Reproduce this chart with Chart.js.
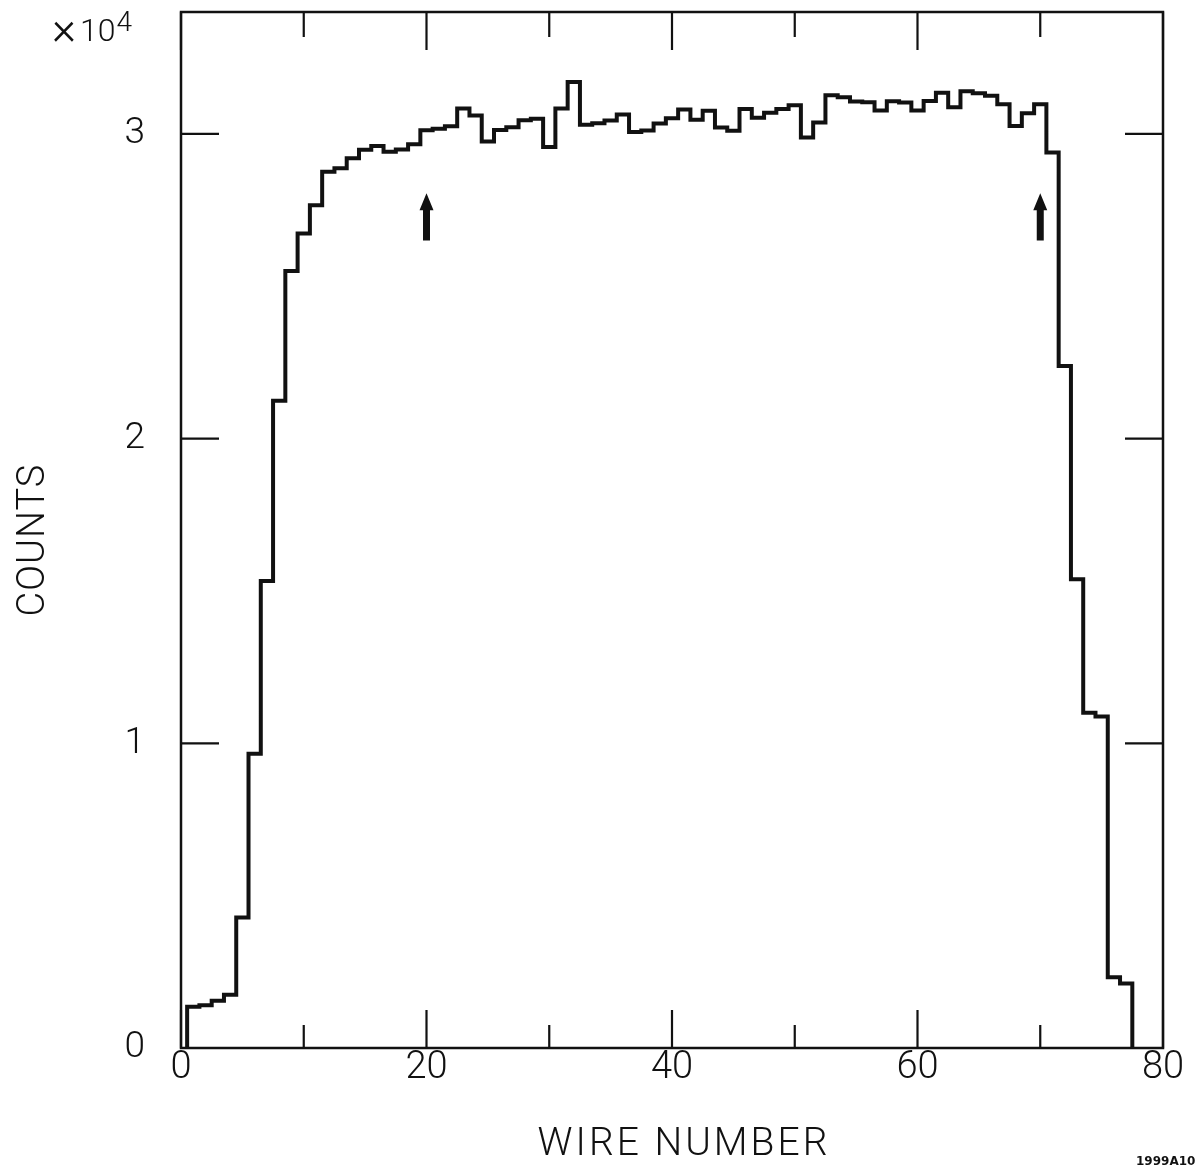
<!DOCTYPE html>
<html>
<head>
<meta charset="utf-8">
<script src="https://cdn.jsdelivr.net/npm/chart.js@4.4.1/dist/chart.umd.min.js"></script>
<style>
  html, body { margin: 0; padding: 0; background: #ffffff; }
  #wrap { width: 1195px; height: 1171px; position: relative; }
</style>
</head>
<body>
<div id="wrap"><canvas id="c" width="1195" height="1171"></canvas></div>
<script>
// Wire chamber occupancy histogram: counts per wire
const wires = [
  1, 2, 3, 4, 5, 6, 7, 8, 9, 10,
  11, 12, 13, 14, 15, 16, 17, 18, 19, 20,
  21, 22, 23, 24, 25, 26, 27, 28, 29, 30,
  31, 32, 33, 34, 35, 36, 37, 38, 39, 40,
  41, 42, 43, 44, 45, 46, 47, 48, 49, 50,
  51, 52, 53, 54, 55, 56, 57, 58, 59, 60,
  61, 62, 63, 64, 65, 66, 67, 68, 69, 70,
  71, 72, 73, 74, 75, 76, 77
];
const counts = [
  1350, 1400, 1550, 1750, 4280, 9660, 15330, 21240, 25500, 26730,
  27660, 28760, 28870, 29200, 29480, 29600, 29410, 29490, 29660, 30120,
  30170, 30250, 30830, 30600, 29750, 30130, 30220, 30450, 30500, 29570,
  30830, 31700, 30300, 30350, 30440, 30640, 30060, 30110, 30340, 30510,
  30800, 30460, 30760, 30210, 30100, 30820, 30530, 30690, 30820, 30940,
  29880, 30370, 31270, 31200, 31060, 31040, 30770, 31070, 31030, 30770,
  31080, 31350, 30870, 31400, 31330, 31250, 30970, 30260, 30680, 30970,
  29390, 22380, 15380, 11000, 10880, 2320, 2120
];

// Axis ticks and titles
const xTickValues = [0, 20, 40, 60, 80];
const xMinorTickValues = [10, 30, 50, 70];
const yTickValues = [0, 10000, 20000, 30000];
const yScaleFactor = 10000;
const xTitle = 'WIRE NUMBER';
const yTitle = 'COUNTS';

// Fiducial arrows marking the selected wire range
const arrowWires = [20, 70];
const arrowTip = 28050;
const arrowBase = 26500;

const LABEL_FONT = 'Roboto, "DejaVu Sans", sans-serif';

// Histogram outline: bins span wire - 0.5 .. wire + 0.5
const stepPoints = [{ x: wires[0] - 0.5, y: 0 }];
wires.forEach((w, i) => stepPoints.push({ x: w - 0.5, y: counts[i] }));
stepPoints.push({ x: wires[wires.length - 1] + 0.5, y: 0 });

const frameAndTicks = {
  id: 'frameAndTicks',
  afterDatasetsDraw(chart) {
    const { ctx, chartArea: a, scales: { x, y } } = chart;
    ctx.save();
    ctx.strokeStyle = '#111';
    ctx.lineWidth = 2.5;
    ctx.lineCap = 'butt';
    ctx.strokeRect(a.left, a.top, a.right - a.left, a.bottom - a.top);

    ctx.lineWidth = 2.2;
    ctx.beginPath();
    xTickValues.forEach(v => {
      const px = x.getPixelForValue(v);
      ctx.moveTo(px, a.bottom); ctx.lineTo(px, a.bottom - 38);
      ctx.moveTo(px, a.top); ctx.lineTo(px, a.top + 38);
    });
    xMinorTickValues.forEach(v => {
      const px = x.getPixelForValue(v);
      ctx.moveTo(px, a.bottom); ctx.lineTo(px, a.bottom - 23);
      ctx.moveTo(px, a.top); ctx.lineTo(px, a.top + 25);
    });
    yTickValues.forEach(v => {
      const py = y.getPixelForValue(v);
      ctx.moveTo(a.left, py); ctx.lineTo(a.left + 38, py);
      ctx.moveTo(a.right, py); ctx.lineTo(a.right - 38, py);
    });
    ctx.stroke();

    // arrows
    ctx.fillStyle = '#111';
    arrowWires.forEach(w => {
      const px = x.getPixelForValue(w);
      const tip = y.getPixelForValue(arrowTip);
      const base = y.getPixelForValue(arrowBase);
      const headH = 17;
      ctx.beginPath();
      ctx.moveTo(px, tip);
      ctx.lineTo(px + 7, tip + headH);
      ctx.lineTo(px + 3.5, tip + headH);
      ctx.lineTo(px + 3.5, base);
      ctx.lineTo(px - 3.5, base);
      ctx.lineTo(px - 3.5, tip + headH);
      ctx.lineTo(px - 7, tip + headH);
      ctx.closePath();
      ctx.fill();
    });

    // axis titles
    ctx.fillStyle = '#111';
    ctx.textAlign = 'center';
    ctx.textBaseline = 'middle';
    ctx.font = '300 39px ' + LABEL_FONT;
    ctx.letterSpacing = '3px';
    ctx.fillText(xTitle, 684, 1145);
    ctx.letterSpacing = '1px';
    ctx.save();
    ctx.translate(34, 540);
    ctx.rotate(-Math.PI / 2);
    ctx.font = '300 38px ' + LABEL_FONT;
    ctx.fillText(yTitle, 0, 0);
    ctx.restore();
    ctx.letterSpacing = '0px';

    // scale multiplier
    ctx.textBaseline = 'alphabetic';
    ctx.textAlign = 'left';
    ctx.font = '300 46px ' + LABEL_FONT;
    ctx.fillText('\u00d7', 52, 44);
    ctx.font = '300 32px ' + LABEL_FONT;
    ctx.fillText('10', 80, 41);
    const tenWidth = ctx.measureText('10').width;
    ctx.font = '300 28px ' + LABEL_FONT;
    ctx.fillText('4', 80 + tenWidth + 1, 31);

    // figure id
    ctx.font = 'bold 12px "DejaVu Sans", sans-serif';
    ctx.fillText('1999A10', 1136, 1165);
    ctx.restore();
  }
};

new Chart(document.getElementById('c'), {
  type: 'line',
  data: {
    datasets: [{
      data: stepPoints,
      stepped: 'before',
      borderColor: '#111',
      borderWidth: 4,
      borderJoinStyle: 'miter',
      pointRadius: 0,
      fill: false
    }]
  },
  options: {
    responsive: false,
    animation: false,
    events: [],
    layout: { padding: { left: 0, top: 12, right: 32, bottom: 0 } },
    plugins: { legend: { display: false }, tooltip: { enabled: false } },
    scales: {
      x: {
        type: 'linear',
        min: 0,
        max: 80,
        afterBuildTicks: s => { s.ticks = xTickValues.map(v => ({ value: v })); },
        afterFit: s => { s.height = 123; s.paddingLeft = 0; s.paddingRight = 0; },
        grid: { display: false, drawTicks: false },
        border: { display: false },
        ticks: {
          padding: -2,
          color: '#111',
          maxRotation: 0,
          autoSkip: false,
          font: { family: LABEL_FONT, size: 38, weight: '300' }
        }
      },
      y: {
        type: 'linear',
        min: 0,
        max: 34000,
        afterBuildTicks: s => { s.ticks = yTickValues.map(v => ({ value: v })); },
        afterFit: s => { s.width = 181; s.paddingTop = 0; s.paddingBottom = 0; },
        grid: { display: false, drawTicks: false },
        border: { display: false },
        ticks: {
          padding: 36,
          color: '#111',
          autoSkip: false,
          font: { family: LABEL_FONT, size: 37, weight: '300' },
          callback: v => String(v / yScaleFactor)
        }
      }
    }
  },
  plugins: [frameAndTicks]
});
</script>
</body>
</html>
